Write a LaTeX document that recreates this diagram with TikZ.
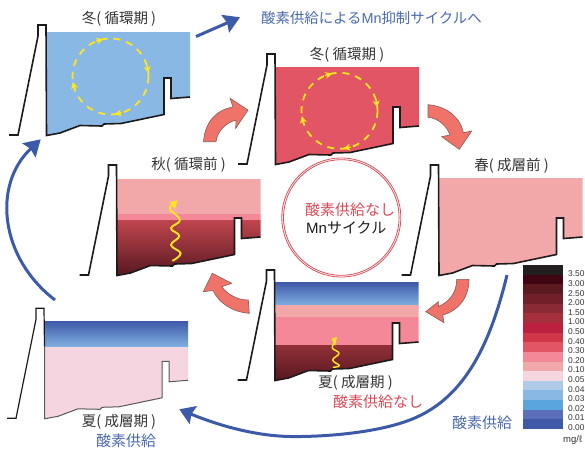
\documentclass[tikz,border=0pt]{standalone}
\usepackage{fontspec}
\setmainfont{Noto Sans CJK JP}
\newfontfamily\latinsans{Liberation Sans}
\usetikzlibrary{arrows.meta}
\definecolor{inkdark}{HTML}{1E1A1A}
\definecolor{labelgrey}{HTML}{333333}
\definecolor{supplyblue}{HTML}{3C5AA8}
\definecolor{textblue}{HTML}{4A68B0}
\definecolor{textred}{HTML}{D84A55}
\definecolor{sunyellow}{HTML}{FFE61E}
\definecolor{salmon}{HTML}{F0736A}
\definecolor{salmonedge}{HTML}{8A5A55}
\definecolor{ringred}{HTML}{D8505A}
\definecolor{lvA}{HTML}{231F20}
\definecolor{lvB}{HTML}{3F0512}
\definecolor{lvC}{HTML}{5A1A1F}
\definecolor{lvD}{HTML}{731F2A}
\definecolor{lvE}{HTML}{8A2A35}
\definecolor{lvF}{HTML}{A5303C}
\definecolor{lvG}{HTML}{BC2040}
\definecolor{lvH}{HTML}{D03548}
\definecolor{lvI}{HTML}{E25565}
\definecolor{lvJ}{HTML}{F58898}
\definecolor{lvK}{HTML}{F2A8A8}
\definecolor{lvL}{HTML}{F5D5E0}
\definecolor{lvM}{HTML}{B0CBE8}
\definecolor{lvN}{HTML}{8AB8E5}
\definecolor{lvO}{HTML}{5AA5DC}
\definecolor{lvP}{HTML}{5A6FB8}
\definecolor{lvQ}{HTML}{3F58A8}
\definecolor{surfaceglow}{HTML}{7FAEE0}
\definecolor{deeptop}{HTML}{C0454F}
\definecolor{deepbottom}{HTML}{561820}
\definecolor{midtop}{HTML}{923038}
\tikzset{
  season/.style={text=labelgrey,font=\fontsize{14.5}{14.5}\selectfont,inner sep=0pt},
  note/.style={font=\fontsize{15}{15}\selectfont,inner sep=0pt},
  dam/.style={draw=inkdark,line width=1.6pt,miter limit=6},
  turnover/.style={sunyellow,line width=1.8pt,dash pattern=on 7pt off 6pt},
  turnhead/.style={sunyellow,line width=1.6pt,-{Stealth[length=7pt,width=7pt]}},
  seasonarrow/.style={fill=salmon,draw=salmonedge,line width=0.6pt,line join=miter},
  supply/.style={supplyblue,line width=3pt},
  wiggle/.style={sunyellow,line width=1.9pt,line join=round,line cap=round},
  scalelabel/.style={text=labelgrey,anchor=west,inner sep=0pt,font=\latinsans\fontsize{8.4}{8.4}\selectfont}
}
% Water body of a basin, with the level as its argument
\newcommand\waterbody[1]{(46.5,#1) -- (190,#1) -- (190,97) -- (171,98.5) -- (171,78) -- (164,78) -- (164,114.5) -- (121,123.5) -- (104,124) -- (102,126) -- (80,125.5) -- (60,133) -- (46.5,135.5) -- cycle}
% Dam, bed and sill line
\newcommand\basinline{(9,135) -- (18,135) -- (38,36) -- (38,25) -- (46,25) -- (46.5,135.5) -- (60,133) -- (80,125.5) -- (102,126) -- (104,124) -- (121,123.5) -- (164,114.5) -- (164,78) -- (171,78) -- (171,98.5) -- (190,97)}
% Clockwise overturning loop around the current origin
\newcommand\overturnloop{%
  \draw[turnover] (0,0) circle (38);
  \foreach \a in {-106,-10,79,167}
    \draw[turnhead] (\a-6:38) -- (\a+5:38);
}
\begin{document}
\begin{tikzpicture}[x=1pt,y=-1pt]
\useasboundingbox (0,0) rectangle (585,448);

% Winter basin, blue
\fill[lvN] \waterbody{32};
\draw[dam] \basinline;
\begin{scope}[shift={(110.5,76.5)}]
  \overturnloop
\end{scope}

% Winter basin, red
\begin{scope}[shift={(229,29)}]
  \fill[lvI] \waterbody{38};
  \draw[dam] \basinline;
\end{scope}
\begin{scope}[shift={(339.5,110.8)}]
  \overturnloop
\end{scope}

% Autumn basin
\begin{scope}[shift={(70.5,140)}]
  \begin{scope}
    \clip \waterbody{39};
    \fill[lvK] (40,39) rectangle (195,74);
    \fill[lvJ] (40,74) rectangle (195,80);
    \shade[top color=deeptop,bottom color=deepbottom] (40,80) rectangle (195,136);
  \end{scope}
  \draw[dam] \basinline;
\end{scope}
\draw[wiggle] plot[smooth,tension=0.7] coordinates {(172.7,260.7) (180.7,253.3) (171,245) (179.3,236) (171,228.3) (180,220) (170,209.3) (173,205)};
\fill[sunyellow] (177.5,200.5) -- (169.5,202) -- (175,209) -- cycle;

% Spring basin
\begin{scope}[shift={(392.5,140)}]
  \fill[lvK] \waterbody{38};
  \draw[dam] \basinline;
\end{scope}

% Summer basin without supply
\begin{scope}[shift={(228.5,245)}]
  \begin{scope}
    \clip \waterbody{37};
    \shade[top color=lvQ,middle color=lvQ!85!surfaceglow,bottom color=surfaceglow] (40,37) rectangle (195,60);
    \fill[lvK] (40,60) rectangle (195,72.3);
    \fill[lvJ] (40,72.3) rectangle (195,100);
    \shade[top color=midtop,bottom color=deepbottom] (40,100) rectangle (195,136);
  \end{scope}
  \draw[dam] \basinline;
\end{scope}
\draw[wiggle,line width=1.5pt] plot[smooth,tension=0.7] coordinates {(333.3,367.3) (339.3,365.5) (332.7,360) (339,353.3) (332.3,348) (335,342)};
\fill[sunyellow] (337,337) -- (331.5,338.5) -- (335,346) -- cycle;

% Summer basin with supply
\begin{scope}[shift={(-2,283.3)}]
  \begin{scope}
    \clip \waterbody{37.7};
    \fill[lvL] (40,60) rectangle (195,136);
    \shade[top color=lvQ,bottom color=surfaceglow] (40,37.7) rectangle (195,62.7);
  \end{scope}
  \draw[dam,line width=1.2pt] (9,135) -- (18,135) -- (38,36) -- (38,25) -- (46,25) -- (46.5,62.7);
  \draw[draw=black!65,line width=1pt] (46.5,62.7) -- (46.5,135.5) -- (60,133) -- (80,125.5) -- (102,126) -- (104,124) -- (121,123.5) -- (164,114.5) -- (164,78) -- (171,78) -- (171,98.5) -- (190,97);
\end{scope}

% Seasonal succession arrows
\path[seasonarrow] (203.5,141.7) .. controls (205,122) and (216,110) .. (233,107) -- (230,98.3) -- (248,110) -- (235.7,128.3) -- (236,120) .. controls (225,123) and (217,132) .. (216,141.7) -- cycle;
\path[seasonarrow] (428,104.7) .. controls (445,106) and (460,116) .. (463.3,132.7) -- (471.7,131) -- (459.3,149.3) -- (441.7,136.7) -- (450,135) .. controls (447,126) and (438,118) .. (428,117.3) -- cycle;
\path[seasonarrow] (469,279.3) .. controls (469,298) and (458,311) .. (442.7,315) -- (444,322.7) -- (425.7,311.7) -- (438.3,301.7) -- (438.5,306.5) .. controls (449,302) and (456.7,293) .. (456.7,279.3) -- cycle;
\path[seasonarrow] (249.3,313.3) .. controls (232,312) and (219,303) .. (213,290.5) -- (203.3,291.7) -- (212.3,273.3) -- (231.7,283.3) -- (221.7,286.7) .. controls (227,294) and (237,300) .. (248.3,300) -- cycle;

% Oxygen supply arrows
\coordinate (winterout) at (196,36.5);
\coordinate (winterouttip) at (240,17.3);
\coordinate (leftstart) at (55,300);
\coordinate (lefttip) at (40.7,139.3);
\coordinate (springstart) at (507,275);
\coordinate (bottombend) at (417,417);
\coordinate (bottomlow) at (290,436.5);
\coordinate (bottomtip) at (179.3,409.3);
\draw[supply,-{Stealth[length=16pt,width=19pt,inset=2pt]}] (winterout) -- (winterouttip);
\draw[supply,-{Stealth[length=16pt,width=19pt,inset=2pt]}] (leftstart) .. controls (0,258) and (-8,185) .. (lefttip);
\draw[supply,-{Stealth[length=15pt,width=19pt,inset=2pt]}] (springstart) .. controls (490,345) and (465,395) .. (bottombend) .. controls (385,431.7) and (330,437) .. (bottomlow) .. controls (260,436) and (225,428) .. (bottomtip);

% Central ring
\node[circle,minimum size=119pt,draw=ringred,line width=0.8pt,inner sep=0pt] (ring) at (341.3,217.5) {};
\draw[ringred,line width=0.8pt] (ring.center) circle (57.8);
\node[note,text=textred,anchor=west] (ringtop) at (305,210) {酸素供給なし};
\node[note,text=inkdark,anchor=west] (ringbottom) at (306,228) {{\latinsans Mn}サイクル};

% Season labels
\node[season] (lwinter) at (119,19) {冬( 循環期 )};
\node[season] (lwinterred) at (347,55) {冬( 循環期 )};
\node[season] (lautumn) at (188.5,165) {秋( 循環前 )};
\node[season] (lspring) at (511.5,166) {春( 成層前 )};
\node[season] (lsummermid) at (355.5,383) {夏( 成層期 )};
\node[season] (lsummerleft) at (119,422) {夏( 成層期 )};

% Oxygen notes
\node[note,text=textblue,anchor=west,font=\fontsize{14.4}{14.4}\selectfont] (ntop) at (261,18) {酸素供給による{\latinsans Mn}抑制サイクルへ};
\node[note,text=textblue] (nleft) at (126,440.7) {酸素供給};
\node[note,text=textred] (nmid) at (378,402) {酸素供給なし};
\node[note,text=textblue,anchor=west] (nright) at (452,423) {酸素供給};

% Concentration scale
\foreach \c [count=\i from 0] in {lvA,lvB,lvC,lvD,lvE,lvF,lvG,lvH,lvI,lvJ,lvK,lvL,lvM,lvN,lvO,lvP,lvQ}
  \fill[\c] (523,265+9.65*\i) rectangle (563,265+9.65*\i+9.65);
\foreach \t [count=\i from 0] in {3.50,3.00,2.50,2.00,1.50,1.00,0.50,0.40,0.30,0.20,0.10,0.05,0.04,0.03,0.02,0.01,0.00}
  \node[scalelabel] (sv\i) at (568,274+9.6*\i) {\t};
\node[scalelabel,font=\latinsans\fontsize{9.5}{9.5}\selectfont] (unit) at (563,440) {mg/ℓ};
\end{tikzpicture}
\end{document}
